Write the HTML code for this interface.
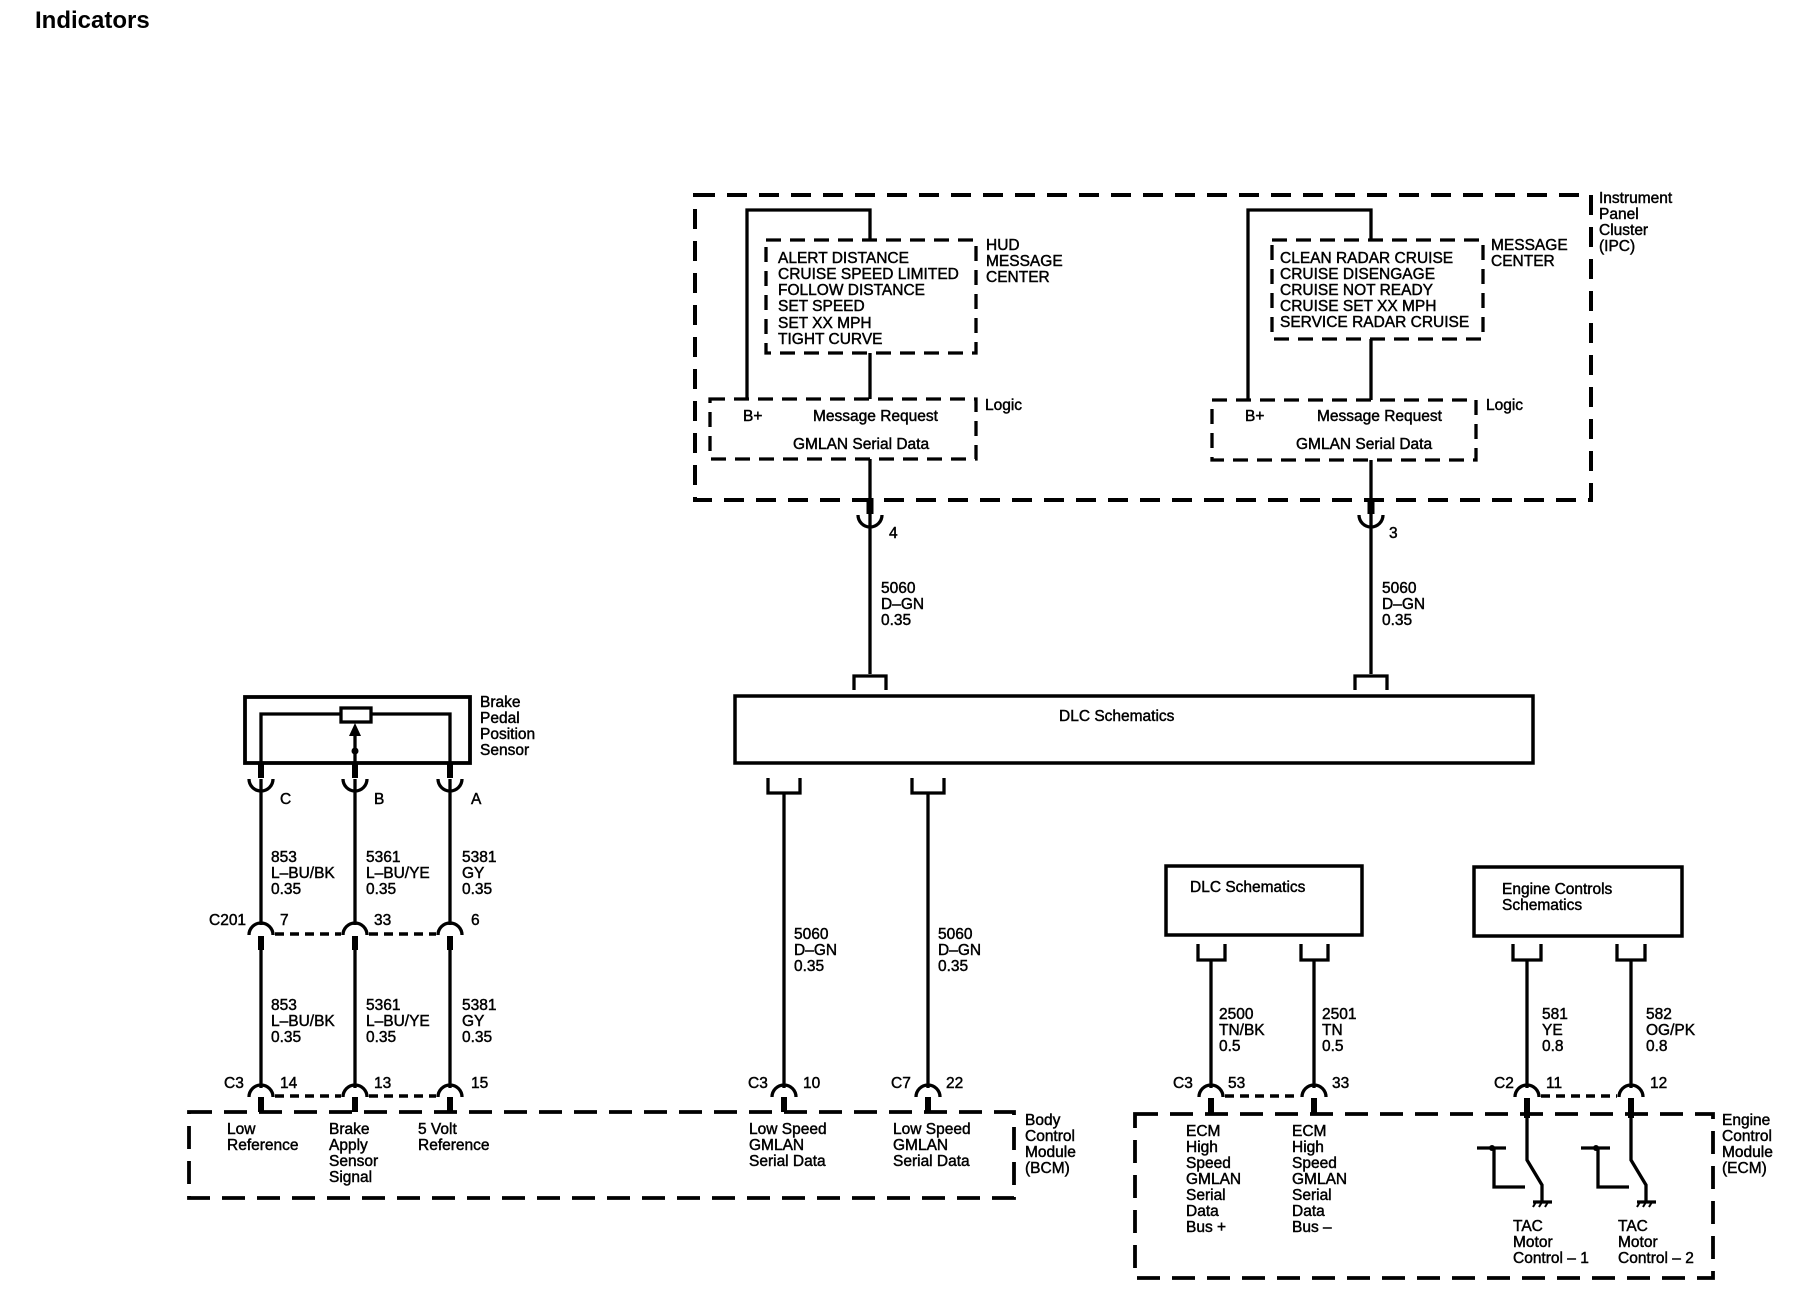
<!DOCTYPE html>
<html><head><meta charset="utf-8"><style>
html,body{margin:0;padding:0;background:#fff}
svg{display:block}
text{font-family:"Liberation Sans",Arial,sans-serif;font-size:15.5px;fill:#000;stroke:#000;stroke-width:0.45}
.t{font-size:24px;font-weight:bold;stroke-width:0}
</style></head><body>
<svg width="1796" height="1312" viewBox="0 0 1796 1312" xmlns="http://www.w3.org/2000/svg">
<rect width="1796" height="1312" fill="#fff"/>
<text class="t" x="35" y="28">Indicators</text>

<g fill="none" stroke="#000">
<rect x="695" y="195" width="896" height="305" stroke-width="4" stroke-dasharray="20,12"/>
<rect x="766" y="240" width="210" height="113" stroke-width="3.3" stroke-dasharray="15,9"/>
<rect x="710" y="399" width="266" height="60" stroke-width="3.3" stroke-dasharray="15,9"/>
<rect x="1272" y="240" width="211" height="99" stroke-width="3.3" stroke-dasharray="15,9"/>
<rect x="1212" y="400" width="264" height="60" stroke-width="3.3" stroke-dasharray="15,9"/>
<g stroke-width="3.3">
<polyline points="747,399 747,210 870,210 870,240"/>
<line x1="870" y1="353" x2="870" y2="399"/>
<line x1="870" y1="459" x2="870" y2="674"/>
<polyline points="1248,400 1248,210 1371,210 1371,240"/>
<line x1="1371" y1="339" x2="1371" y2="400"/>
<line x1="1371" y1="460" x2="1371" y2="674"/>
<path d="M858,515 A12,12 0 0 0 882,515"/>
<path d="M1359,515 A12,12 0 0 0 1383,515"/>
<polyline points="854,690 854,676 886,676 886,690"/>
<polyline points="1355,690 1355,676 1387,676 1387,690"/>
</g>
<line x1="870" y1="498" x2="870" y2="514" stroke-width="7"/>
<line x1="1371" y1="498" x2="1371" y2="514" stroke-width="7"/>
<rect x="735" y="696" width="798" height="67" stroke-width="3.5"/>
<g stroke-width="3.3">
<polyline points="768,778 768,793 800,793 800,778"/>
<polyline points="912,778 912,793 944,793 944,778"/>
<line x1="784" y1="793" x2="784" y2="1088"/>
<line x1="928" y1="793" x2="928" y2="1088"/>
<path d="M772,1097 A12,12 0 0 1 796,1097"/>
<path d="M916,1097 A12,12 0 0 1 940,1097"/>
</g>
<line x1="784" y1="1097" x2="784" y2="1112" stroke-width="6"/>
<line x1="928" y1="1097" x2="928" y2="1112" stroke-width="6"/>

<rect x="245" y="697" width="225" height="66" stroke-width="3.8"/>
<g stroke-width="3.3">
<polyline points="261,763 261,714 450,714 450,763"/>
<line x1="355" y1="736" x2="355" y2="763"/>
</g>
<rect x="341" y="708" width="30" height="14" fill="#fff" stroke-width="3.3"/>
<g stroke-width="3.3">
<path d="M249,779 A12,12 0 0 0 273,779"/>
<path d="M343,779 A12,12 0 0 0 367,779"/>
<path d="M438,779 A12,12 0 0 0 462,779"/>
<line x1="261" y1="779" x2="261" y2="925"/>
<line x1="355" y1="779" x2="355" y2="925"/>
<line x1="450" y1="779" x2="450" y2="925"/>
<path d="M249,935 A12,12 0 0 1 273,935"/>
<path d="M343,935 A12,12 0 0 1 367,935"/>
<path d="M438,935 A12,12 0 0 1 462,935"/>
<line x1="261" y1="948" x2="261" y2="1088"/>
<line x1="355" y1="948" x2="355" y2="1088"/>
<line x1="450" y1="948" x2="450" y2="1088"/>
<path d="M249,1097 A12,12 0 0 1 273,1097"/>
<path d="M343,1097 A12,12 0 0 1 367,1097"/>
<path d="M438,1097 A12,12 0 0 1 462,1097"/>
</g>
<g stroke-width="6">
<line x1="261" y1="763" x2="261" y2="778"/>
<line x1="355" y1="763" x2="355" y2="778"/>
<line x1="450" y1="763" x2="450" y2="778"/>
<line x1="261" y1="936" x2="261" y2="950"/>
<line x1="355" y1="936" x2="355" y2="950"/>
<line x1="450" y1="936" x2="450" y2="950"/>
<line x1="261" y1="1097" x2="261" y2="1112"/>
<line x1="355" y1="1097" x2="355" y2="1112"/>
<line x1="450" y1="1097" x2="450" y2="1112"/>
</g>
<g stroke-width="3.5" stroke-dasharray="9,6">
<line x1="275" y1="934" x2="341" y2="934"/>
<line x1="369" y1="934" x2="436" y2="934"/>
<line x1="275" y1="1096" x2="341" y2="1096"/>
<line x1="369" y1="1096" x2="436" y2="1096"/>
</g>
<rect x="189" y="1112" width="825" height="86" stroke-width="3.8" stroke-dasharray="23,12"/>

<rect x="1166" y="866" width="196" height="69" stroke-width="3.5"/>
<rect x="1474" y="867" width="208" height="69" stroke-width="3.5"/>
<g stroke-width="3.3">
<polyline points="1198,944 1198,960 1225,960 1225,944"/>
<polyline points="1301,944 1301,960 1328,960 1328,944"/>
<polyline points="1513,944 1513,960 1541,960 1541,944"/>
<polyline points="1617,944 1617,960 1645,960 1645,944"/>
<line x1="1211" y1="960" x2="1211" y2="1088"/>
<line x1="1314" y1="960" x2="1314" y2="1088"/>
<line x1="1527" y1="960" x2="1527" y2="1088"/>
<line x1="1631" y1="960" x2="1631" y2="1088"/>
<path d="M1199,1097 A12,12 0 0 1 1223,1097"/>
<path d="M1302,1097 A12,12 0 0 1 1326,1097"/>
<path d="M1515,1097 A12,12 0 0 1 1539,1097"/>
<path d="M1619,1097 A12,12 0 0 1 1643,1097"/>
</g>
<g stroke-width="6">
<line x1="1211" y1="1098" x2="1211" y2="1114"/>
<line x1="1314" y1="1098" x2="1314" y2="1114"/>
<line x1="1527" y1="1098" x2="1527" y2="1118"/>
<line x1="1631" y1="1098" x2="1631" y2="1118"/>
</g>
<g stroke-width="3.5" stroke-dasharray="9,6">
<line x1="1225" y1="1096" x2="1300" y2="1096"/>
<line x1="1541" y1="1096" x2="1617" y2="1096"/>
</g>
<rect x="1135" y="1114" width="578" height="164" stroke-width="3.8" stroke-dasharray="23,12"/>
<g stroke-width="3.3">
<polyline points="1527,1118 1527,1160 1542,1185 1542,1202"/>
<line x1="1477" y1="1148" x2="1506" y2="1148"/>
<polyline points="1494,1148 1494,1187 1525,1187"/>
<line x1="1533" y1="1202" x2="1552" y2="1202"/>
<path d="M1536,1202 l-3,5 M1542,1202 l-3,5 M1548,1202 l-3,5" stroke-width="2"/>
<polyline points="1631,1118 1631,1160 1646,1185 1646,1202"/>
<line x1="1581" y1="1148" x2="1610" y2="1148"/>
<polyline points="1598,1148 1598,1187 1629,1187"/>
<line x1="1637" y1="1202" x2="1656" y2="1202"/>
<path d="M1640,1202 l-3,5 M1646,1202 l-3,5 M1652,1202 l-3,5" stroke-width="2"/>
</g>
</g>
<polygon points="355,723 349,736 361,736" fill="#000"/>
<circle cx="355" cy="751" r="3.5" fill="#000"/>
<circle cx="1492" cy="1148" r="3" fill="#000"/>
<circle cx="1596" cy="1148" r="3" fill="#000"/>

<text x="778" y="263">ALERT DISTANCE</text>
<text x="778" y="279">CRUISE SPEED LIMITED</text>
<text x="778" y="295">FOLLOW DISTANCE</text>
<text x="778" y="311">SET SPEED</text>
<text x="778" y="328">SET XX MPH</text>
<text x="778" y="344">TIGHT CURVE</text>
<text x="986" y="250">HUD</text>
<text x="986" y="266">MESSAGE</text>
<text x="986" y="282">CENTER</text>
<text x="743" y="421">B+</text>
<text x="813" y="421">Message Request</text>
<text x="793" y="449">GMLAN Serial Data</text>
<text x="985" y="410">Logic</text>

<text x="1280" y="263">CLEAN RADAR CRUISE</text>
<text x="1280" y="279">CRUISE DISENGAGE</text>
<text x="1280" y="295">CRUISE NOT READY</text>
<text x="1280" y="311">CRUISE SET XX MPH</text>
<text x="1280" y="327">SERVICE RADAR CRUISE</text>
<text x="1491" y="250">MESSAGE</text>
<text x="1491" y="266">CENTER</text>
<text x="1245" y="421">B+</text>
<text x="1317" y="421">Message Request</text>
<text x="1296" y="449">GMLAN Serial Data</text>
<text x="1486" y="410">Logic</text>
<text x="1599" y="203">Instrument</text>
<text x="1599" y="219">Panel</text>
<text x="1599" y="235">Cluster</text>
<text x="1599" y="251">(IPC)</text>

<text x="889" y="538">4</text>
<text x="1389" y="538">3</text>
<text x="881" y="593">5060</text><text x="881" y="609">D–GN</text><text x="881" y="625">0.35</text>
<text x="1382" y="593">5060</text><text x="1382" y="609">D–GN</text><text x="1382" y="625">0.35</text>
<text x="1059" y="721">DLC Schematics</text>

<text x="794" y="939">5060</text><text x="794" y="955">D–GN</text><text x="794" y="971">0.35</text>
<text x="938" y="939">5060</text><text x="938" y="955">D–GN</text><text x="938" y="971">0.35</text>
<text x="748" y="1088">C3</text><text x="803" y="1088">10</text>
<text x="891" y="1088">C7</text><text x="946" y="1088">22</text>

<text x="480" y="707">Brake</text>
<text x="480" y="723">Pedal</text>
<text x="480" y="739">Position</text>
<text x="480" y="755">Sensor</text>
<text x="280" y="804">C</text><text x="374" y="804">B</text><text x="471" y="804">A</text>
<text x="271" y="862">853</text><text x="271" y="878">L–BU/BK</text><text x="271" y="894">0.35</text>
<text x="366" y="862">5361</text><text x="366" y="878">L–BU/YE</text><text x="366" y="894">0.35</text>
<text x="462" y="862">5381</text><text x="462" y="878">GY</text><text x="462" y="894">0.35</text>
<text x="209" y="925">C201</text><text x="280" y="925">7</text><text x="374" y="925">33</text><text x="471" y="925">6</text>
<text x="271" y="1010">853</text><text x="271" y="1026">L–BU/BK</text><text x="271" y="1042">0.35</text>
<text x="366" y="1010">5361</text><text x="366" y="1026">L–BU/YE</text><text x="366" y="1042">0.35</text>
<text x="462" y="1010">5381</text><text x="462" y="1026">GY</text><text x="462" y="1042">0.35</text>
<text x="224" y="1088">C3</text><text x="280" y="1088">14</text><text x="374" y="1088">13</text><text x="471" y="1088">15</text>

<text x="227" y="1134">Low</text><text x="227" y="1150">Reference</text>
<text x="329" y="1134">Brake</text><text x="329" y="1150">Apply</text><text x="329" y="1166">Sensor</text><text x="329" y="1182">Signal</text>
<text x="418" y="1134">5 Volt</text><text x="418" y="1150">Reference</text>
<text x="749" y="1134">Low Speed</text><text x="749" y="1150">GMLAN</text><text x="749" y="1166">Serial Data</text>
<text x="893" y="1134">Low Speed</text><text x="893" y="1150">GMLAN</text><text x="893" y="1166">Serial Data</text>
<text x="1025" y="1125">Body</text><text x="1025" y="1141">Control</text><text x="1025" y="1157">Module</text><text x="1025" y="1173">(BCM)</text>

<text x="1190" y="892">DLC Schematics</text>
<text x="1502" y="894">Engine Controls</text>
<text x="1502" y="910">Schematics</text>
<text x="1219" y="1019">2500</text><text x="1219" y="1035">TN/BK</text><text x="1219" y="1051">0.5</text>
<text x="1322" y="1019">2501</text><text x="1322" y="1035">TN</text><text x="1322" y="1051">0.5</text>
<text x="1542" y="1019">581</text><text x="1542" y="1035">YE</text><text x="1542" y="1051">0.8</text>
<text x="1646" y="1019">582</text><text x="1646" y="1035">OG/PK</text><text x="1646" y="1051">0.8</text>
<text x="1173" y="1088">C3</text><text x="1228" y="1088">53</text><text x="1332" y="1088">33</text>
<text x="1494" y="1088">C2</text><text x="1546" y="1088">11</text><text x="1650" y="1088">12</text>
<text x="1186" y="1136">ECM</text><text x="1186" y="1152">High</text><text x="1186" y="1168">Speed</text><text x="1186" y="1184">GMLAN</text><text x="1186" y="1200">Serial</text><text x="1186" y="1216">Data</text><text x="1186" y="1232">Bus +</text>
<text x="1292" y="1136">ECM</text><text x="1292" y="1152">High</text><text x="1292" y="1168">Speed</text><text x="1292" y="1184">GMLAN</text><text x="1292" y="1200">Serial</text><text x="1292" y="1216">Data</text><text x="1292" y="1232">Bus –</text>
<text x="1513" y="1231">TAC</text><text x="1513" y="1247">Motor</text><text x="1513" y="1263">Control – 1</text>
<text x="1618" y="1231">TAC</text><text x="1618" y="1247">Motor</text><text x="1618" y="1263">Control – 2</text>
<text x="1722" y="1125">Engine</text><text x="1722" y="1141">Control</text><text x="1722" y="1157">Module</text><text x="1722" y="1173">(ECM)</text>
</svg>
</body></html>
